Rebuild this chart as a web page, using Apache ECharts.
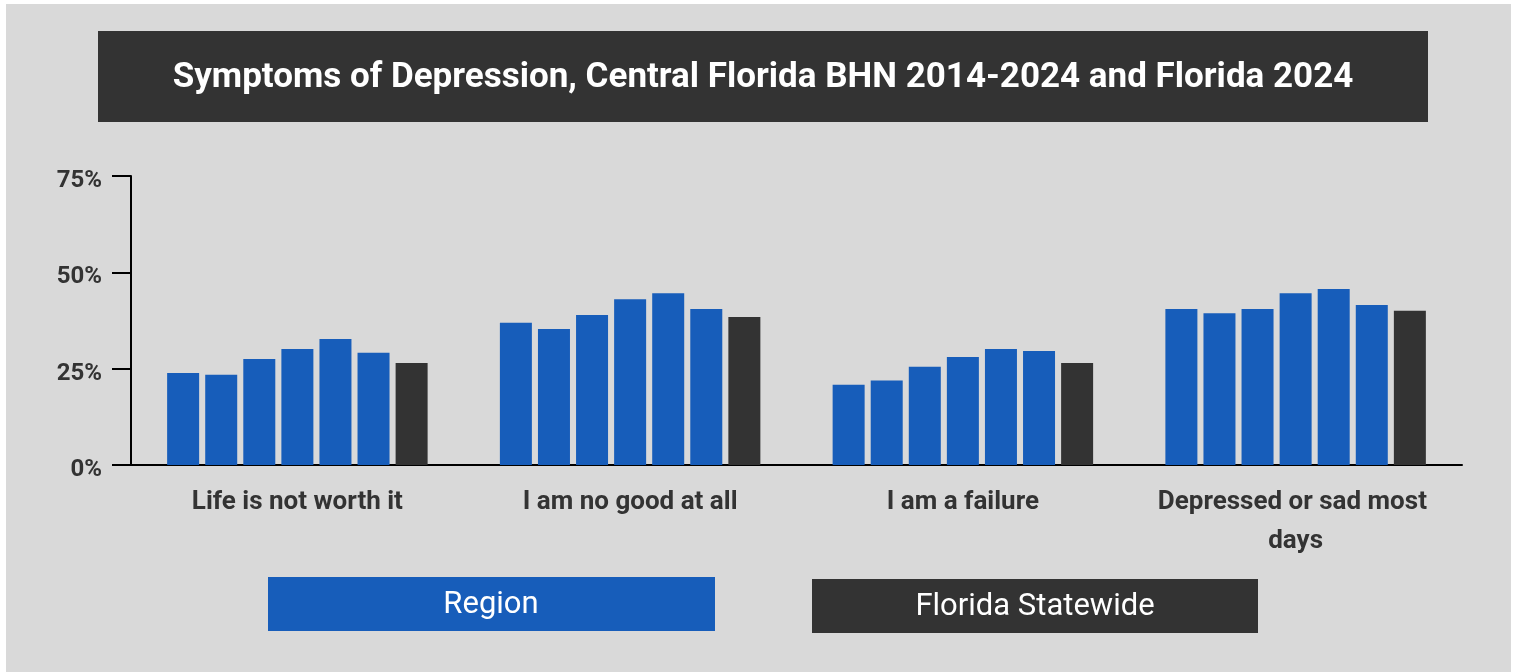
<!DOCTYPE html>
<html>
<head>
<meta charset="utf-8">
<script src="https://cdn.jsdelivr.net/npm/echarts@6/dist/echarts.min.js"></script>
<style>
  html, body { margin: 0; padding: 0; background: #ffffff; }
  #chart { width: 1515px; height: 672px; }
</style>
</head>
<body>
<div id="chart"></div>
<script>
// symptoms on the x axis
const categories = [
  "Life is not worth it",
  "I am no good at all",
  "I am a failure",
  "Depressed or sad most days",
];

// region survey years, then the statewide bar
const seriesNames = ["2014", "2016", "2018", "2020", "2022", "2024", "Florida 2024"];

const region2014 = [23.9, 36.9, 20.8, 40.5];
const region2016 = [23.4, 35.3, 21.9, 39.4];
const region2018 = [27.5, 38.9, 25.5, 40.5];
const region2020 = [30.1, 43.0, 28.0, 44.6];
const region2022 = [32.7, 44.6, 30.1, 45.7];
const region2024 = [29.1, 40.5, 29.6, 41.5];
const florida2024 = [26.5, 38.4, 26.5, 40.0];

const yTicks = [0, 25, 50, 75];

const BLUE = "#175dba";
const DARK = "#333333";
const FONT = "Roboto, 'Noto Sans', sans-serif";

const chart = echarts.init(document.getElementById("chart"));

const seriesData = [region2014, region2016, region2018, region2020, region2022, region2024, florida2024];

const option = {
  backgroundColor: "#ffffff",
  animation: false,
  grid: { left: 131, right: 53, top: 176, bottom: 207 },
  xAxis: {
    type: "category",
    data: categories,
    axisLine: { lineStyle: { color: "#000", width: 2 } },
    axisTick: { alignWithLabel: true, length: 20, lineStyle: { color: "#000", width: 1.5 } },
    axisLabel: {
      interval: 0,
      margin: 18,
      color: "#333",
      fontFamily: FONT,
      fontWeight: "bold",
      fontSize: 26,
      lineHeight: 39,
      width: 300,
      overflow: "break",
    },
  },
  yAxis: {
    type: "value",
    min: yTicks[0],
    max: yTicks[yTicks.length - 1],
    interval: 25,
    splitLine: { show: false },
    axisLine: { show: true, lineStyle: { color: "#000", width: 2 } },
    axisTick: { show: true, length: 19, lineStyle: { color: "#000", width: 2 } },
    axisLabel: {
      margin: 29,
      formatter: "{p|{value}%}",
      rich: {
        p: {
          padding: [10, 0, 0, 0],
          color: "#333",
          fontFamily: FONT,
          fontWeight: "bold",
          fontSize: 24,
        },
      },
    },
  },
  series: seriesData.map((data, i) => ({
    name: seriesNames[i],
    type: "bar",
    data: data,
    barWidth: 32,
    barGap: "19%",
    itemStyle: { color: i === 6 ? DARK : BLUE },
  })),
  graphic: [
    {
      type: "rect",
      z: -100,
      shape: { x: 6, y: 4, width: 1505, height: 668 },
      style: { fill: "#d9d9d9" },
    },
    {
      type: "rect",
      shape: { x: 98, y: 31, width: 1330, height: 91 },
      style: { fill: DARK },
    },
    {
      type: "text",
      x: 763,
      y: 78,
      style: {
        text: "Symptoms of Depression, Central Florida BHN 2014-2024 and Florida 2024",
        fill: "#fff",
        font: "bold 35px " + FONT,
        align: "center",
        verticalAlign: "middle",
      },
    },
    {
      type: "rect",
      shape: { x: 268, y: 577, width: 447, height: 54 },
      style: { fill: BLUE },
    },
    {
      type: "text",
      x: 491,
      y: 605,
      style: {
        text: "Region",
        fill: "#fff",
        font: "31px " + FONT,
        align: "center",
        verticalAlign: "middle",
      },
    },
    {
      type: "rect",
      shape: { x: 812, y: 579, width: 446, height: 54 },
      style: { fill: DARK },
    },
    {
      type: "text",
      x: 1035,
      y: 607,
      style: {
        text: "Florida Statewide",
        fill: "#fff",
        font: "31px " + FONT,
        align: "center",
        verticalAlign: "middle",
      },
    },
  ],
};

chart.setOption(option);
window.addEventListener("resize", () => chart.resize());
</script>
</body>
</html>
